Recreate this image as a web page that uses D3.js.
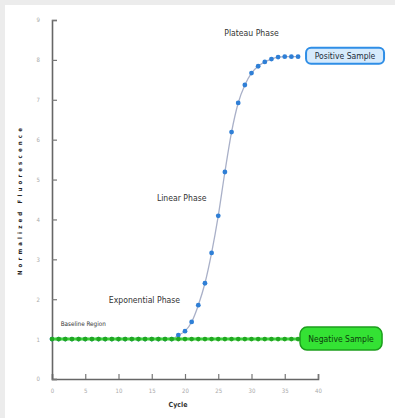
<!DOCTYPE html>
<html>
<head>
<meta charset="utf-8">
<script src="https://cdn.jsdelivr.net/npm/d3@7"></script>
<style>
  body { margin: 0; background: #ececec; }
  svg { display: block; }
</style>
</head>
<body>
<svg width="395" height="418"></svg>
<script>
  // data
  const cycles = d3.range(0, 38);
  const negativeValues = cycles.map(() => 1);
  const positiveValues = [
    1, 1, 1, 1, 1, 1, 1, 1, 1, 1,
    1, 1, 1, 1, 1, 1, 1, 1, 1, 1.1,
    1.2, 1.43, 1.85, 2.4, 3.16, 4.09, 5.19, 6.19, 6.92, 7.37,
    7.67, 7.84, 7.95, 8.02, 8.07, 8.08, 8.08, 8.08
  ];
  const xTicks = [0, 5, 10, 15, 20, 25, 30, 35, 40];
  const yTicks = [0, 1, 2, 3, 4, 5, 6, 7, 8, 9];
  const phaseLabels = ['Plateau Phase', 'Linear Phase', 'Exponential Phase', 'Baseline Region'];
  const phaseCycle = [30.0, 19.5, 13.9, 4.7];
  const phaseValue = [8.67, 4.54, 1.98, 1.4];

  const svg = d3.select('svg');
  const width = +svg.attr('width');
  const height = +svg.attr('height');

  svg.append('rect')
    .attr('x', 5).attr('y', 5)
    .attr('width', width - 5).attr('height', height - 5)
    .attr('fill', '#fff');

  const margin = { top: 20, right: 77, bottom: 39, left: 52 };
  const innerWidth = width - margin.left - margin.right;
  const innerHeight = height - margin.top - margin.bottom;

  const xScale = d3.scaleLinear().domain([0, 40]).range([0, innerWidth]);
  const yScale = d3.scaleLinear().domain([0, 9]).range([innerHeight, 0]);

  const g = svg.append('g')
    .attr('transform', `translate(${margin.left},${margin.top})`);

  const narrow = "'DejaVu Sans Condensed', 'Liberation Sans Narrow', sans-serif";

  // axes
  const xAxis = d3.axisBottom(xScale).tickValues(xTicks).tickSize(-5).tickPadding(10);
  const yAxis = d3.axisLeft(yScale).tickValues(yTicks).tickSize(-5).tickPadding(12);

  const xAxisG = g.append('g')
    .attr('transform', `translate(0,${innerHeight})`)
    .call(xAxis);
  const yAxisG = g.append('g').call(yAxis);

  [xAxisG, yAxisG].forEach(a => {
    a.select('.domain').attr('stroke', '#666').attr('stroke-width', 1.6);
    a.selectAll('.tick line').attr('stroke', '#777').attr('stroke-width', 1.2);
    a.selectAll('.tick text')
      .attr('fill', '#aaa')
      .style('font', '6px ' + narrow);
  });

  g.append('text')
    .attr('x', xScale(20) - 7)
    .attr('y', innerHeight + 28)
    .attr('text-anchor', 'middle')
    .attr('fill', '#333')
    .style('font', 'bold 7px ' + narrow)
    .text('Cycle');

  g.append('text')
    .attr('transform', `translate(${22 - margin.left},${200 - margin.top}) rotate(-90)`)
    .attr('text-anchor', 'middle')
    .attr('fill', '#222')
    .style('font', 'bold 6px ' + narrow)
    .style('letter-spacing', '3.2px')
    .text('Normalized Fluorescence');

  // positive sample
  const line = d3.line()
    .x((d, i) => xScale(cycles[i]))
    .y(d => yScale(d));

  g.append('path')
    .datum(positiveValues)
    .attr('d', line.curve(d3.curveMonotoneX))
    .attr('fill', 'none')
    .attr('stroke', '#a9b0c8')
    .attr('stroke-width', 1.3);

  g.selectAll('.pos-dot').data(positiveValues)
    .enter().append('circle')
      .attr('class', 'pos-dot')
      .attr('cx', (d, i) => xScale(cycles[i]))
      .attr('cy', d => yScale(d))
      .attr('r', 2.4)
      .attr('fill', '#2f7fd6');

  // negative sample
  g.append('path')
    .datum(negativeValues)
    .attr('d', line.curve(d3.curveLinear))
    .attr('fill', 'none')
    .attr('stroke', '#3ed13e')
    .attr('stroke-width', 3);

  g.selectAll('.neg-dot').data(negativeValues)
    .enter().append('circle')
      .attr('class', 'neg-dot')
      .attr('cx', (d, i) => xScale(cycles[i]))
      .attr('cy', d => yScale(d))
      .attr('r', 2.3)
      .attr('fill', '#21a821');

  // end labels
  const lastPos = positiveValues[positiveValues.length - 1];
  const lastX = xScale(cycles[cycles.length - 1]);

  g.append('rect')
    .attr('x', lastX + 8).attr('y', yScale(lastPos) - 9)
    .attr('width', 78).attr('height', 16)
    .attr('rx', 5)
    .attr('fill', '#d6eafc')
    .attr('stroke', '#2f8ee6')
    .attr('stroke-width', 2);
  g.append('text')
    .attr('x', lastX + 47).attr('y', yScale(lastPos) + 2.5)
    .attr('text-anchor', 'middle')
    .attr('fill', '#1a2a3a')
    .style('font', '8.5px ' + narrow)
    .text('Positive Sample');

  g.append('rect')
    .attr('x', lastX + 2).attr('y', yScale(1) - 12)
    .attr('width', 82).attr('height', 23)
    .attr('rx', 7)
    .attr('fill', '#34e234')
    .attr('stroke', '#1c9e1c')
    .attr('stroke-width', 1.5);
  g.append('text')
    .attr('x', lastX + 43).attr('y', yScale(1) + 3)
    .attr('text-anchor', 'middle')
    .attr('fill', '#0d3d0d')
    .style('font', '8.5px ' + narrow)
    .text('Negative Sample');

  // phase annotations
  g.selectAll('.phase').data(phaseLabels)
    .enter().append('text')
      .attr('class', 'phase')
      .attr('x', (d, i) => xScale(phaseCycle[i]))
      .attr('y', (d, i) => yScale(phaseValue[i]) + 3)
      .attr('text-anchor', 'middle')
      .attr('fill', '#333')
      .style('font', (d, i) => (i === 3 ? '6.3px ' : '8.6px ') + narrow)
      .text(d => d);
</script>
</body>
</html>
